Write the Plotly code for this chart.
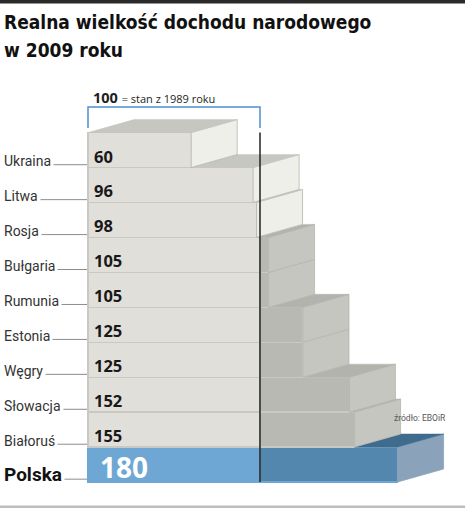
import plotly.graph_objects as go

# ---------------- data ----------------
countries = ["Polska", "Białoruś", "Słowacja", "Węgry", "Estonia",
             "Rumunia", "Bułgaria", "Rosja", "Litwa", "Ukraina"]
values = [180, 155, 152, 125, 125, 105, 105, 98, 96, 60]
baseline = 100
title_lines = ["Realna wielkość dochodu narodowego", "w 2009 roku"]
note_bold = "100"
note_text = "= stan z 1989 roku"
source = "źródło: EBOiR"

# ---------------- geometry / style ----------------
W, H = 465, 508
X0_PX, PX_PER_UNIT = 88, 1.72
ROW_PX = 34.94
Y0_PX = 464.5  # pixel centre of row 0
DEPTH_X = 46 / PX_PER_UNIT
DEPTH_Y = 13 / ROW_PX

xr = [-X0_PX / PX_PER_UNIT, (W - X0_PX) / PX_PER_UNIT]
yr = [(Y0_PX - H) / ROW_PX, Y0_PX / ROW_PX]

def ypaper(px):
    return 1 - px / H

n = len(values)
idx = list(range(n))
is_pl = [c == "Polska" for c in countries]

front_lo = ["#6fa7d4" if p else "#e0dfda" for p in is_pl]
front_hi = ["#5487ad" if p else "#b9b9b4" for p in is_pl]
edge_col = ["#6fa7d4" if p else "#c9c8c3" for p in is_pl]

fig = go.Figure()

# side and top faces (computed from values)
for i in idx:
    v = values[i]
    va = values[i + 1] if i + 1 < n else 0
    T = i + 0.5
    if is_pl[i]:
        side_c, top_c = "#8aa3bb", "#3f6b8c"
    elif v < baseline:
        side_c, top_c = "#efefea", "#c7c7c2"
    else:
        side_c, top_c = "#c6c6c1", "#b3b3ae"
    # side face
    fig.add_trace(go.Scatter(
        x=[v, v + DEPTH_X, v + DEPTH_X, v, v],
        y=[i - 0.5, i - 0.5 + DEPTH_Y, T + DEPTH_Y, T, i - 0.5],
        mode="lines", fill="toself", fillcolor=side_c,
        line=dict(color="#b5b5b0" if not is_pl[i] else "#8aa3bb", width=0.8),
        hoverinfo="skip", showlegend=False))
    # visible part of top face
    if v > va:
        fig.add_trace(go.Scatter(
            x=[va, v, v + DEPTH_X, va + DEPTH_X, va],
            y=[T, T, T + DEPTH_Y, T + DEPTH_Y, T],
            mode="lines", fill="toself", fillcolor=top_c,
            line=dict(color=top_c, width=0.5),
            hoverinfo="skip", showlegend=False))

# front faces
fig.add_trace(go.Bar(
    x=[min(v, baseline) for v in values], y=idx, orientation="h", width=1,
    marker=dict(color=front_lo, line=dict(color=edge_col, width=1.2)),
    hoverinfo="skip", showlegend=False))
fig.add_trace(go.Bar(
    x=[max(v - baseline, 0) for v in values], y=idx, orientation="h", width=1,
    marker=dict(color=front_hi, line=dict(color=edge_col, width=1.2)),
    hoverinfo="skip", showlegend=False))

annotations = []
shapes = []

# value labels
for i, v in enumerate(values):
    if is_pl[i]:
        annotations.append(dict(x=6, y=i, xref="x", yref="y", text=f"<b>{v}</b>",
                                showarrow=False, xanchor="left", yanchor="middle",
                                font=dict(family="Open Sans", size=28, color="white"), yshift=-2))
    else:
        annotations.append(dict(x=2.5, y=i, xref="x", yref="y", text=f"<b>{v}</b>",
                                showarrow=False, xanchor="left", yanchor="middle",
                                font=dict(family="Open Sans", size=16.5, color="#1a1718"), yshift=-6))

# category labels + leader lines
for i, c in enumerate(countries):
    ly = i - 0.42
    shapes.append(dict(type="line", xref="paper", yref="y", x0=4 / W, x1=87 / W,
                       y0=ly, y1=ly, line=dict(color="#8c8c8c", width=1), layer="above"))
    if is_pl[i]:
        annotations.append(dict(x=0.5 / W, y=i, xref="paper", yref="y", text=f"<b>{c}</b>",
                                showarrow=False, xanchor="left", yanchor="middle",
                                font=dict(family="Roboto", size=19, color="#111"),
                                bgcolor="white", borderpad=2, yshift=-10))
    else:
        annotations.append(dict(x=1 / W, y=i, xref="paper", yref="y", text=c,
                                showarrow=False, xanchor="left", yanchor="middle",
                                font=dict(family="Roboto", size=14, color="#333"),
                                bgcolor="white", borderpad=2, yshift=-11))

# baseline line at 100
shapes.append(dict(type="line", xref="x", yref="y", x0=baseline, x1=baseline,
                   y0=-0.5, y1=n - 0.5, line=dict(color="#222", width=1.5), layer="above"))
# bracket
shapes.append(dict(type="path", xref="x", yref="paper",
                   path=f"M 0,{ypaper(128)} L 0,{ypaper(107)} L {baseline},{ypaper(107)} L {baseline},{ypaper(128)}",
                   line=dict(color="#4a90d0", width=1.5), layer="above"))
annotations.append(dict(x=2, y=ypaper(97), xref="x", yref="paper",
                        text=f"<b>{note_bold}</b> <span style='font-size:11px'>{note_text}</span>",
                        showarrow=False, xanchor="left", yanchor="middle",
                        font=dict(family="Open Sans", size=14.5, color="#231f20")))

# title
for k, t in enumerate(title_lines):
    annotations.append(dict(x=2 / W, y=ypaper(22 + 28 * k), xref="paper", yref="paper",
                            text=f"<b>{t}</b>", showarrow=False, xanchor="left", yanchor="middle",
                            font=dict(family="DejaVu Sans Condensed",
                                      size=19, color="#111")))
# source
annotations.append(dict(x=448 / W, y=ypaper(418), xref="paper", yref="paper", text=source,
                        showarrow=False, xanchor="right", yanchor="middle",
                        font=dict(family="Roboto", size=8.5, color="#555")))

# top bar and bottom rule
shapes.append(dict(type="rect", xref="paper", yref="paper", x0=0, x1=1,
                   y0=ypaper(3.5), y1=1, fillcolor="#2a2a2a", line=dict(width=0)))
shapes.append(dict(type="rect", xref="paper", yref="paper", x0=0, x1=1,
                   y0=0, y1=ypaper(505.5), fillcolor="#bdbdbd", line=dict(width=0)))

fig.update_layout(
    width=W, height=H, margin=dict(l=0, r=0, t=0, b=0),
    paper_bgcolor="white", plot_bgcolor="white",
    barmode="stack", showlegend=False,
    xaxis=dict(range=xr, visible=False, fixedrange=True),
    yaxis=dict(range=yr, visible=False, fixedrange=True),
    annotations=annotations, shapes=shapes,
)

fig.write_html("out.html")
